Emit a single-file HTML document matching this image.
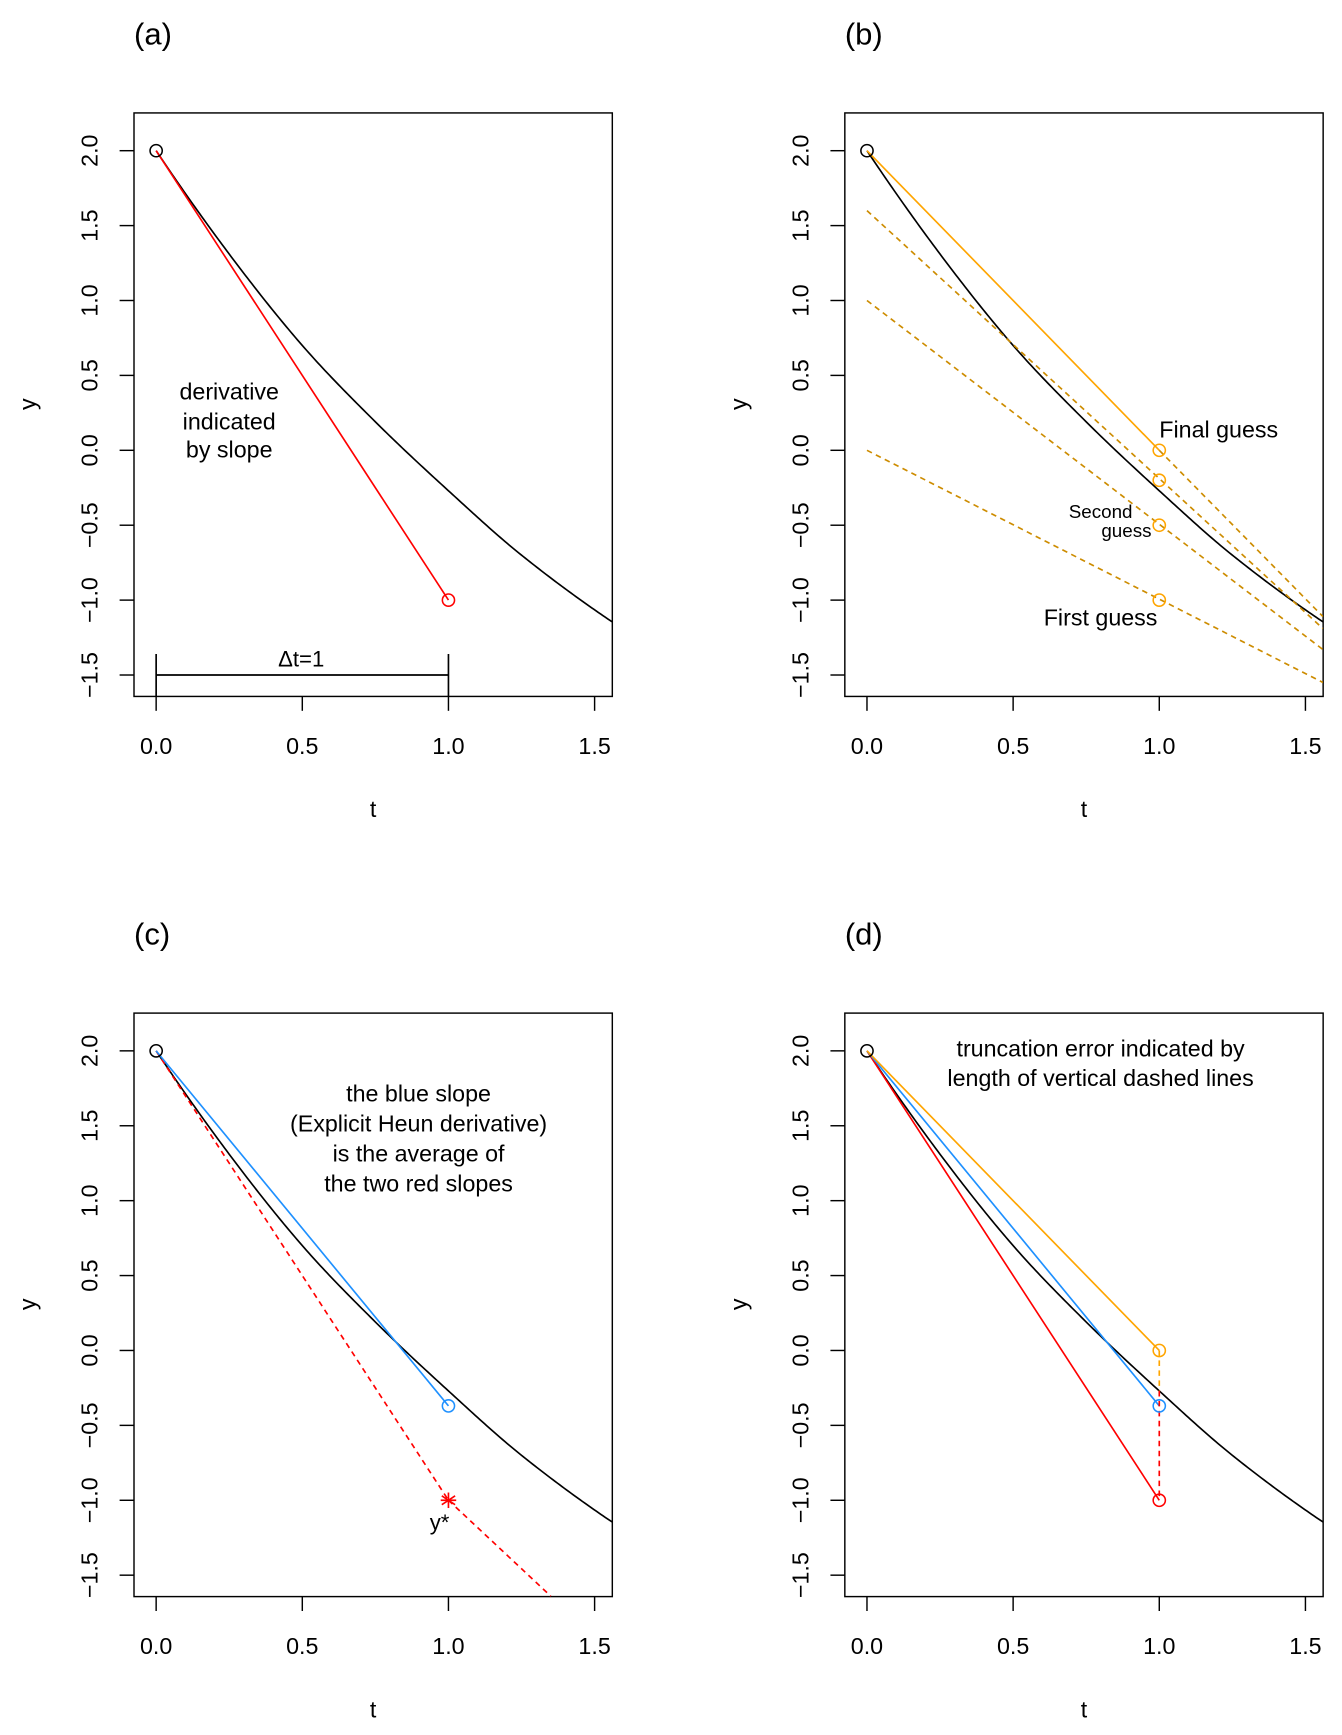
<!DOCTYPE html>
<html><head><meta charset="utf-8"><style>
html,body{margin:0;padding:0;background:#fff}
svg{display:block}
text{font-family:"Liberation Sans",Arial,sans-serif;fill:#000}
</style></head><body>
<svg id="fig" width="1342" height="1735" viewBox="0 0 1212 1567" xmlns="http://www.w3.org/2000/svg"></svg>
<script>
// exact solution samples (t, y)
const curveT = [0, 0.25, 0.5, 0.75, 1.0, 1.25, 1.56];
const curveY = [2.0, 1.31, 0.70, 0.19, -0.27, -0.70, -1.145];
const y0 = 2.0;
const eulerY = -1.0;
const heunY = -0.37;
const implicitY = 0.0;
const exactY1 = -0.27;
const guessY = [-1.0, -0.5, -0.2, 0.0];
const guessStartY = [0.0, 1.0, 1.6];
const guessEndY = [-1.55, -1.33, -1.19];
const finalEndY = -1.11;
const predictorEndT = 1.35;
const predictorEndY = -1.64;
const xTicks = [0, 0.5, 1.0, 1.5];
const xTickLabels = ["0.0", "0.5", "1.0", "1.5"];
const yTicks = [-1.5, -1.0, -0.5, 0.0, 0.5, 1.0, 1.5, 2.0];
const yTickLabels = ["\u22121.5", "\u22121.0", "\u22120.5", "0.0", "0.5", "1.0", "1.5", "2.0"];

const NS = "http://www.w3.org/2000/svg";
const svg = document.getElementById('fig');
const RED = "#ff0000", ORANGE = "#ffa500", DORANGE = "#cd8c00", BLUE = "#1e90ff";

function mk(parent, tag, attrs, txt) {
  const e = document.createElementNS(NS, tag);
  for (const k in attrs) e.setAttribute(k, attrs[k]);
  if (txt !== undefined) e.textContent = txt;
  parent.appendChild(e);
  return e;
}

function sec(i) { return (curveY[i + 1] - curveY[i]) / (curveT[i + 1] - curveT[i]); }
function tangent(i) {
  const n = curveT.length;
  if (i === 0) return 2 * sec(0) - tangent(1);
  if (i === n - 1) return 2 * sec(n - 2) - tangent(n - 2);
  return (curveY[i + 1] - curveY[i - 1]) / (curveT[i + 1] - curveT[i - 1]);
}
function interp(t) {
  let i = 0;
  while (i < curveT.length - 2 && t > curveT[i + 1]) i++;
  const h = curveT[i + 1] - curveT[i];
  const u = (t - curveT[i]) / h;
  const h00 = 2*u*u*u - 3*u*u + 1, h10 = u*u*u - 2*u*u + u, h01 = -2*u*u*u + 3*u*u, h11 = u*u*u - u*u;
  return h00 * curveY[i] + h10 * h * tangent(i) + h01 * curveY[i + 1] + h11 * h * tangent(i + 1);
}

function panel(ox, oy, label, name) {
  const g = mk(svg, 'g', {transform: `translate(${ox},${oy})`});
  
  
  const X = t => 141 + t * 264;
  const Y = v => 406.7 - v * 135.3;
  const ttl = mk(g, 'text', {x: 121, y: 40, 'font-size': 28}, label);
  
  
  const box = mk(g, 'rect', {x: 121, y: 102, width: 432, height: 527, fill: 'none', stroke: '#000', 'stroke-width': 1.3});
  
  
  xTicks.forEach((t, i) => {
    mk(g, 'line', {x1: X(t), x2: X(t), y1: 629, y2: 642, stroke: '#000', 'stroke-width': 1.3});
    const tl = mk(g, 'text', {x: X(t), y: 681, 'font-size': 21, 'text-anchor': 'middle'}, xTickLabels[i]);
    
    
  });
  yTicks.forEach((v, i) => {
    mk(g, 'line', {x1: 108, x2: 121, y1: Y(v), y2: Y(v), stroke: '#000', 'stroke-width': 1.3});
    const tl = mk(g, 'text', {x: 0, y: 0, 'font-size': 21, 'text-anchor': 'middle', transform: `translate(88,${Y(v)}) rotate(-90)`}, yTickLabels[i]);
    
    
  });
  const xl = mk(g, 'text', {x: 337, y: 738, 'font-size': 21, 'text-anchor': 'middle'}, 't');
  
  
  const yl = mk(g, 'text', {x: 0, y: 0, 'font-size': 21, 'text-anchor': 'middle', transform: 'translate(32,365) rotate(-90)'}, 'y');
  
  
  const cid = 'clip' + name;
  const cp = mk(g, 'clipPath', {id: cid});
  mk(cp, 'rect', {x: 121, y: 102, width: 432, height: 527});
  const pg = mk(g, 'g', {'clip-path': `url(#${cid})`});
  let d = '';
  for (let k = 0; k <= 200; k++) {
    const t = curveT[curveT.length - 1] * k / 200;
    d += (k ? 'L' : 'M') + X(t).toFixed(2) + ',' + Y(interp(t)).toFixed(2);
  }
  const cv = mk(pg, 'path', {d: d, fill: 'none', stroke: '#000', 'stroke-width': 1.5});
  
  
  return {g, pg, X, Y};
}

function line(p, t1, v1, t2, v2, col, dash, name) {
  const a = {x1: p.X(t1), y1: p.Y(v1), x2: p.X(t2), y2: p.Y(v2), stroke: col, 'stroke-width': 1.5};
  if (dash) a['stroke-dasharray'] = '5,4';
  const l = mk(p.pg, 'line', a);
  
  
}
function pt(p, t, v, col, name) {
  const c = mk(p.pg, 'circle', {cx: p.X(t), cy: p.Y(v), r: 5.5, fill: 'none', stroke: col, 'stroke-width': 1.4});
  
  
}
function txt(p, x, y, s, size, anchor, name) {
  const e = mk(p.g, 'text', {x: x, y: y, 'font-size': size, 'text-anchor': anchor || 'middle'}, s);
  
  
}

// (a)
const A = panel(0, 0, '(a)', 'panel-a');
line(A, 0, y0, 1, eulerY, RED, false, 'euler-slope');
pt(A, 1, eulerY, RED, 'euler-point');
pt(A, 0, y0, '#000', 'initial-point');
line(A, 0, -1.5, 1, -1.5, '#000', false, 'delta-t-bar');
line(A, 0, -1.36, 0, -1.64, '#000', false, 'delta-t-left-cap');
line(A, 1, -1.36, 1, -1.64, '#000', false, 'delta-t-right-cap');
txt(A, 272, 602, '\u0394t=1', 20, 'middle', 'delta-t-label');
txt(A, 207, 361, 'derivative', 21, 'middle', 'annotation');
txt(A, 207, 388, 'indicated', 21, 'middle', 'annotation');
txt(A, 207, 413, 'by slope', 21, 'middle', 'annotation');

// (b)
const B = panel(642, 0, '(b)', 'panel-b');
guessStartY.forEach((s, i) => line(B, 0, s, 1.56, guessEndY[i], DORANGE, true, 'guess-slope-line'));
line(B, 1, implicitY, 1.56, finalEndY, DORANGE, true, 'final-slope-line');
line(B, 0, y0, 1, implicitY, ORANGE, false, 'implicit-slope');
guessY.forEach(v => pt(B, 1, v, ORANGE, 'guess-point'));
pt(B, 0, y0, '#000', 'initial-point');
txt(B, 405, 395, 'Final guess', 21, 'start', 'final-guess-label');
txt(B, 352, 565, 'First guess', 21, 'middle', 'first-guess-label');
txt(B, 352, 468, 'Second', 17, 'middle', 'second-guess-label');
txt(B, 398, 485, 'guess', 17, 'end', 'second-guess-label');

// (c)
const C = panel(0, 813, '(c)', 'panel-c');
line(C, 0, y0, 1, eulerY, RED, true, 'predictor-slope');
line(C, 1, eulerY, predictorEndT, predictorEndY, RED, true, 'corrector-slope');
line(C, 0, y0, 1, heunY, BLUE, false, 'heun-slope');
pt(C, 1, heunY, BLUE, 'heun-point');
pt(C, 0, y0, '#000', 'initial-point');
[[0,7],[0,-7],[6,4],[-6,4],[6,-4],[-6,-4],[7,0],[-7,0]].forEach(o => {
  const s = mk(C.pg, 'line', {x1: C.X(1), y1: C.Y(eulerY), x2: C.X(1) + o[0], y2: C.Y(eulerY) + o[1], stroke: RED, 'stroke-width': 1.5});
  
  
});
txt(C, 397, 569, 'y*', 20, 'middle', 'y-star-label');
txt(C, 378, 182, 'the blue slope', 21, 'middle', 'annotation');
txt(C, 378, 209, '(Explicit Heun derivative)', 21, 'middle', 'annotation');
txt(C, 378, 236, 'is the average of', 21, 'middle', 'annotation');
txt(C, 378, 263, 'the two red slopes', 21, 'middle', 'annotation');

// (d)
const D = panel(642, 813, '(d)', 'panel-d');
line(D, 0, y0, 1, eulerY, RED, false, 'euler-slope');
line(D, 0, y0, 1, heunY, BLUE, false, 'heun-slope');
line(D, 0, y0, 1, implicitY, ORANGE, false, 'implicit-slope');
line(D, 1, implicitY, 1, exactY1, ORANGE, true, 'implicit-error');
line(D, 1, exactY1, 1, eulerY, RED, true, 'euler-error');
pt(D, 1, implicitY, ORANGE, 'implicit-point');
pt(D, 1, heunY, BLUE, 'heun-point');
pt(D, 1, eulerY, RED, 'euler-point');
pt(D, 0, y0, '#000', 'initial-point');
txt(D, 352, 141, 'truncation error indicated by', 21, 'middle', 'annotation');
txt(D, 352, 168, 'length of vertical dashed lines', 21, 'middle', 'annotation');
</script>
</body></html>
